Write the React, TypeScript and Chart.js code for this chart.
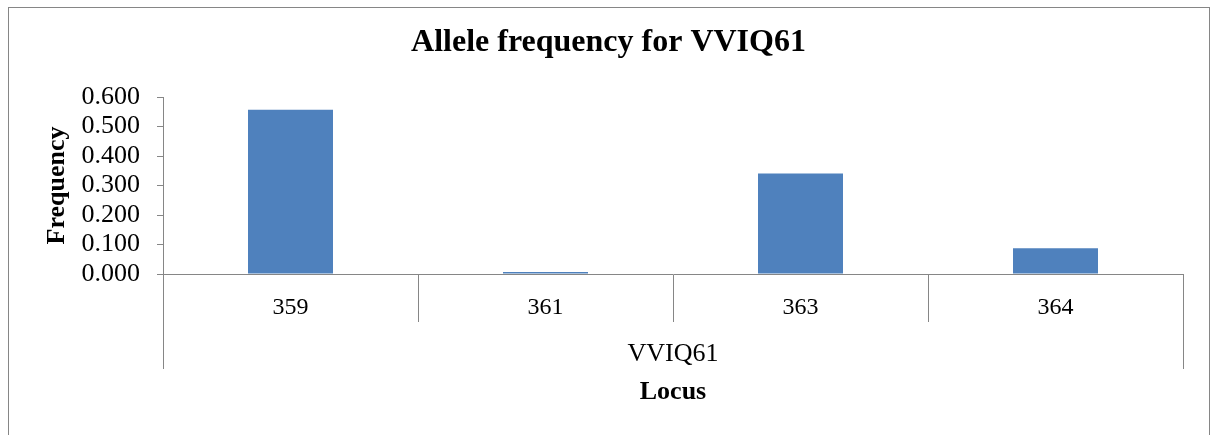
import React, { useEffect, useRef } from "react";
import { Chart, registerables } from "chart.js";

Chart.register(...registerables);

const categories = ["359", "361", "363", "364"];
const frequencies = [0.557, 0.007, 0.341, 0.087];
const groupLabels = ["VVIQ61"];
const yTicks = [0, 0.1, 0.2, 0.3, 0.4, 0.5, 0.6];

const SERIF = '"Liberation Serif", "Times New Roman", serif';
const AXIS = "#868686";
const BAR = "#4F81BD";

const W = 1211;
const H = 435;

const framePlugin = {
  id: "frame",
  beforeDraw(chart: any) {
    const ctx = chart.ctx;
    ctx.save();
    ctx.fillStyle = "#ffffff";
    ctx.fillRect(0, 0, chart.width, chart.height);
    ctx.strokeStyle = AXIS;
    ctx.lineWidth = 1;
    ctx.strokeRect(8.5, 7.5, chart.width - 10, chart.height + 10);
    ctx.restore();
  },
};

const groupPlugin = {
  id: "groupAxis",
  afterDraw(chart: any) {
    const x = chart.scales.x;
    const ctx = chart.ctx;
    ctx.save();
    ctx.strokeStyle = AXIS;
    ctx.lineWidth = 1;
    const top = x.top;
    const bottom = x.top + 95;
    [x.left, x.right].forEach((px: number) => {
      const p = Math.round(px) + 0.5;
      ctx.beginPath();
      ctx.moveTo(p, top);
      ctx.lineTo(p, bottom);
      ctx.stroke();
    });
    ctx.fillStyle = "#000";
    ctx.font = `26px ${SERIF}`;
    ctx.textAlign = "center";
    ctx.textBaseline = "middle";
    ctx.fillText(groupLabels[0], (x.left + x.right) / 2, x.top + 80);
    ctx.restore();
  },
};

export default function App() {
  const ref = useRef<HTMLCanvasElement | null>(null);

  useEffect(() => {
    document.body.style.margin = "0";
    const canvas = ref.current;
    if (!canvas) return;
    const chart = new Chart(canvas, {
      type: "bar",
      data: {
        labels: categories,
        datasets: [
          {
            label: "Frequency",
            data: frequencies,
            backgroundColor: BAR,
            borderWidth: 0,
            categoryPercentage: 1,
            barPercentage: 1 / 3,
          },
        ],
      },
      options: {
        animation: false,
        responsive: false,
        devicePixelRatio: 1,
        layout: { padding: { left: 34, right: 28, top: 0, bottom: 0 } },
        plugins: {
          legend: { display: false },
          tooltip: { enabled: false },
          title: {
            display: true,
            text: "Allele frequency for VVIQ61",
            color: "#000",
            font: { family: SERIF, size: 32, weight: "bold" },
            padding: { top: 24, bottom: 34.6 },
          },
        },
        scales: {
          x: {
            offset: true,
            afterFit(scale: any) {
              scale.height = 161;
            },
            border: { color: AXIS, width: 1 },
            grid: {
              offset: true,
              drawOnChartArea: false,
              drawTicks: true,
              tickLength: 48,
              color: AXIS,
            },
            ticks: {
              color: "#000",
              font: { family: SERIF, size: 24 },
              padding: -29,
              maxRotation: 0,
              autoSkip: false,
            },
            title: {
              display: true,
              text: "Locus",
              color: "#000",
              font: { family: SERIF, size: 26, weight: "bold" },
              padding: { top: 0, bottom: 27 },
            },
          },
          y: {
            min: 0,
            max: 0.6,
            afterFit(scale: any) {
              scale.width = 129;
            },
            afterBuildTicks(scale: any) {
              scale.ticks = yTicks.map((v) => ({ value: v }));
            },
            border: { color: AXIS, width: 1 },
            grid: {
              drawOnChartArea: false,
              drawTicks: true,
              tickLength: 6,
              color: AXIS,
            },
            ticks: {
              color: "#000",
              font: { family: SERIF, size: 26 },
              padding: 17,
              autoSkip: false,
              callback: (v: any) => Number(v).toFixed(3),
            },
            title: {
              display: true,
              text: "Frequency",
              color: "#000",
              font: { family: SERIF, size: 26, weight: "bold" },
              padding: { top: 8, bottom: 0 },
            },
          },
        },
      } as any,
      plugins: [framePlugin, groupPlugin],
    });
    return () => chart.destroy();
  }, []);

  return (
    <div style={{ width: W, height: H, position: "relative" }}>
      <canvas ref={ref} width={W} height={H} style={{ display: "block" }} />
    </div>
  );
}
